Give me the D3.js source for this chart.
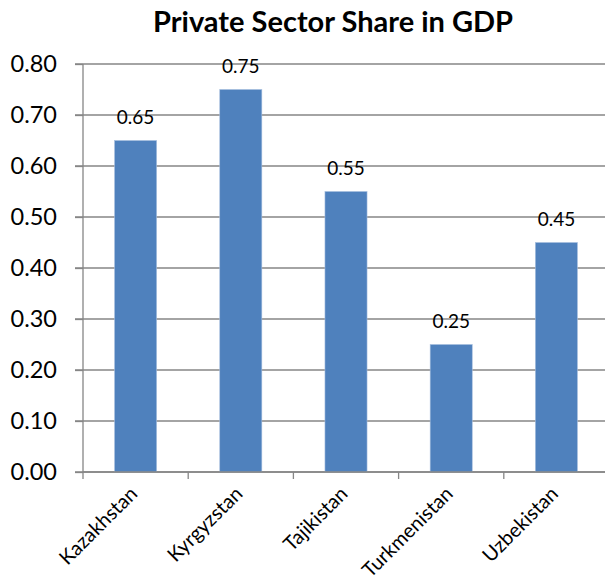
<!DOCTYPE html>
<html>
<head>
<meta charset="utf-8">
<script src="https://cdn.jsdelivr.net/npm/d3@7"></script>
<style>
  body { margin: 0; background: #fff; }
  text { font-family: Lato, "Open Sans", sans-serif; fill: #000; }
  .grid line { stroke: #868686; stroke-width: 1.3; }
  .axis path, .axis line { stroke: #868686; stroke-width: 1.3; }
</style>
</head>
<body>
<div id="chart"></div>
<script>
const countries = ["Kazakhstan", "Kyrgyzstan", "Tajikistan", "Turkmenistan", "Uzbekistan"];
const shares = [0.65, 0.75, 0.55, 0.25, 0.45];
const yTicks = [0, 0.1, 0.2, 0.3, 0.4, 0.5, 0.6, 0.7, 0.8];

const svgWidth = 605, svgHeight = 581;
const margin = {top: 64, right: -4, bottom: 109, left: 83};
const width = svgWidth - margin.left - margin.right;
const height = svgHeight - margin.top - margin.bottom;

const svg = d3.select("#chart").append("svg")
    .attr("width", svgWidth)
    .attr("height", svgHeight);

// title
svg.append("text")
    .attr("x", 333)
    .attr("y", 32)
    .attr("text-anchor", "middle")
    .attr("font-size", 29)
    .attr("font-weight", "bold")
    .text("Private Sector Share in GDP");

const g = svg.append("g")
    .attr("transform", "translate(" + margin.left + "," + margin.top + ")");

const xscale = d3.scaleBand().domain(countries).range([0, width]);
const yscale = d3.scaleLinear().domain([0, 0.8]).range([height, 0]);

// gridlines
g.append("g")
    .attr("class", "grid")
    .selectAll("line")
    .data(yTicks)
    .join("line")
    .attr("x1", -8)
    .attr("x2", width)
    .attr("y1", d => yscale(d))
    .attr("y2", d => yscale(d));

// y axis
const yaxis = d3.axisLeft(yscale).tickValues(yTicks).tickFormat(d3.format(".2f")).tickSize(8).tickPadding(8);
const ya = g.append("g").attr("class", "axis").call(yaxis);
ya.select(".domain").attr("d", "M0," + height + "V0");
ya.selectAll("text").attr("font-size", 23.5).attr("x", -26).attr("font-family", "Lato");

// bars
const barW = xscale.bandwidth() * 0.4;
g.selectAll(".bar")
    .data(countries)
    .join("rect")
    .attr("class", "bar")
    .attr("x", d => xscale(d) + (xscale.bandwidth() - barW) / 2)
    .attr("y", (d, i) => yscale(shares[i]))
    .attr("width", barW)
    .attr("height", (d, i) => height - yscale(shares[i]))
    .attr("fill", "#4f81bd")
    .attr("stroke", "#a7bfde")
    .attr("stroke-width", 0.6);

// value labels
g.selectAll(".val")
    .data(countries)
    .join("text")
    .attr("class", "val")
    .attr("x", d => xscale(d) + xscale.bandwidth() / 2)
    .attr("y", (d, i) => yscale(shares[i]) - 17)
    .attr("text-anchor", "middle")
    .attr("font-size", 19)
    .text((d, i) => shares[i].toFixed(2));

// x axis
g.append("line")
    .attr("x1", 0).attr("x2", width)
    .attr("y1", height).attr("y2", height)
    .attr("stroke", "#868686").attr("stroke-width", 1.3);

g.selectAll(".xtick")
    .data(d3.range(countries.length + 1))
    .join("line")
    .attr("class", "xtick")
    .attr("x1", i => i * xscale.step())
    .attr("x2", i => i * xscale.step())
    .attr("y1", height)
    .attr("y2", height + 7)
    .attr("stroke", "#868686").attr("stroke-width", 1.3);

g.selectAll(".xlab")
    .data(countries)
    .join("text")
    .attr("class", "xlab")
    .attr("text-anchor", "end")
    .attr("font-size", 20)
    .attr("transform", d => "translate(" + (xscale(d) + xscale.bandwidth() / 2 + 3) + "," + (height + 23) + ")rotate(-45)")
    .text(d => d);
</script>
</body>
</html>
